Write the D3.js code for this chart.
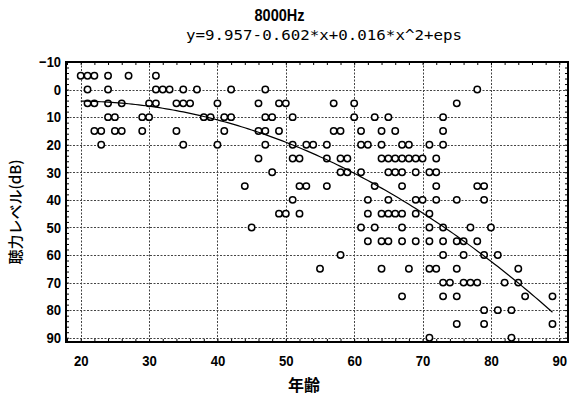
<!DOCTYPE html>
<html>
<head>
<meta charset="utf-8">
<script src="https://cdn.jsdelivr.net/npm/d3@7/dist/d3.min.js"></script>
<style>
  html, body { margin: 0; padding: 0; background: #fff; }
  svg { display: block; }
</style>
</head>
<body>
<svg id="chart" width="573" height="396"></svg>
<script>
// Hearing level at 8000 Hz by age, with a quadratic fit
const chartTitle = "8000Hz";
const xLabel = "年齢";
const yLabel = "聴力レベル(dB)";

// fit coefficients: level = c0 + c1*age + c2*age^2
const fitCoef = [9.957, -0.602, 0.0157];

const xTicks = [20, 30, 40, 50, 60, 70, 80, 90];
const yTicks = [-10, 0, 10, 20, 30, 40, 50, 60, 70, 80, 90];

// hearing level (dB) of each row of points, and the ages measured at that level
const levelRows = [-5, 0, 5, 10, 15, 20, 25, 30, 35, 40, 45, 50, 55, 60, 65, 70, 75, 80, 85, 90];
const agesByRow = [
  [20, 21, 22, 24, 27, 31],
  [21, 24, 31, 32, 33, 35, 37, 42, 47, 78],
  [21, 22, 24, 26, 30, 31, 34, 35, 36, 40, 46, 49, 50, 57, 60, 75],
  [24, 25, 29, 30, 38, 39, 41, 42, 47, 48, 51, 60, 63, 65, 73],
  [22, 23, 25, 26, 29, 34, 41, 46, 47, 49, 57, 58, 61, 64, 66, 73],
  [23, 35, 40, 47, 51, 53, 54, 56, 61, 62, 64, 67, 68, 71, 73],
  [46, 51, 52, 56, 58, 59, 64, 65, 66, 67, 68, 69, 70, 72],
  [48, 58, 59, 61, 65, 66, 67, 69, 71, 72],
  [44, 52, 53, 56, 63, 67, 72, 78, 79],
  [51, 62, 65, 69, 70, 72, 75, 79],
  [49, 50, 52, 62, 64, 65, 66, 67, 69, 71],
  [45, 61, 63, 67, 71, 73, 77, 80],
  [62, 64, 65, 67, 69, 71, 73, 75, 76, 78],
  [58, 73, 76, 79, 81],
  [55, 64, 68, 71, 72, 75, 84],
  [73, 74, 76, 77, 78, 82, 84],
  [67, 73, 75, 85, 89],
  [79, 81, 83],
  [75, 79, 89],
  [71, 83]
];

const points = [];
levelRows.forEach((lv, i) => agesByRow[i].forEach(a => points.push({ age: a, level: lv })));

const svg = d3.select("#chart");
const plot = { left: 66, right: 568, top: 62, bottom: 342 };

const x = d3.scaleLinear().domain([17.85, 91.27]).range([plot.left, plot.right]);
const y = d3.scaleLinear().domain([-10, 91.55]).range([plot.top, plot.bottom]);

const tickFont = "'Liberation Sans Narrow', 'Liberation Sans', Arial, sans-serif";

// grid
const grid = svg.append("g").attr("class", "grid")
  .attr("stroke", "#444").attr("stroke-width", 1).attr("stroke-dasharray", "2,1.5");
grid.selectAll("line.gx").data(xTicks).join("line")
  .attr("class", "gx")
  .attr("x1", d => Math.round(x(d)) + 0.5).attr("x2", d => Math.round(x(d)) + 0.5)
  .attr("y1", plot.top).attr("y2", plot.bottom);
grid.selectAll("line.gy").data(yTicks.filter(d => d > -10)).join("line")
  .attr("class", "gy")
  .attr("x1", plot.left).attr("x2", plot.right)
  .attr("y1", d => Math.round(y(d)) + 0.5).attr("y2", d => Math.round(y(d)) + 0.5);

// minor ticks every 2 units, pointing inwards on all four sides
const xMinor = d3.range(18, 92, 2);
const yMinor = d3.range(-10, 92, 2);
const tickLen = 3;
const axisAll = svg.append("g").attr("stroke", "#000").attr("stroke-width", 1);
axisAll.append("g").call(d3.axisBottom(x).tickValues(xMinor).tickSize(-tickLen).tickFormat(""))
  .attr("transform", `translate(0,${plot.bottom})`);
axisAll.append("g").call(d3.axisTop(x).tickValues(xMinor).tickSize(-tickLen).tickFormat(""))
  .attr("transform", `translate(0,${plot.top})`);
axisAll.append("g").call(d3.axisLeft(y).tickValues(yMinor).tickSize(-tickLen).tickFormat(""))
  .attr("transform", `translate(${plot.left},0)`);
axisAll.append("g").call(d3.axisRight(y).tickValues(yMinor).tickSize(-tickLen).tickFormat(""))
  .attr("transform", `translate(${plot.right},0)`);
axisAll.selectAll(".domain").remove();

// tick labels: bold, narrow digits
function styleTickText(sel) {
  sel.attr("font-family", tickFont).attr("font-weight", "bold")
    .attr("font-size", 15).attr("fill", "#000")
    .attr("lengthAdjust", "spacingAndGlyphs")
    .attr("textLength", function () { return this.textContent.length * 7.3; });
}
const xAxis = svg.append("g").attr("transform", `translate(0,${plot.bottom})`)
  .call(d3.axisBottom(x).tickValues(xTicks).tickSize(0).tickPadding(13));
xAxis.select(".domain").remove();
xAxis.selectAll("text").call(styleTickText);

const yAxis = svg.append("g").attr("transform", `translate(${plot.left},0)`)
  .call(d3.axisLeft(y).tickValues(yTicks).tickSize(0).tickPadding(5));
yAxis.select(".domain").remove();
yAxis.selectAll("text").call(styleTickText);

// frame
svg.append("rect")
  .attr("x", plot.left).attr("y", plot.top)
  .attr("width", plot.right - plot.left).attr("height", plot.bottom - plot.top)
  .attr("fill", "none").attr("stroke", "#000").attr("stroke-width", 2);

// data points
svg.append("g").selectAll("circle").data(points).join("circle")
  .attr("cx", d => x(d.age)).attr("cy", d => y(d.level))
  .attr("r", 3.2).attr("fill", "#fff").attr("stroke", "#000").attr("stroke-width", 1.5);

// fitted curve over the observed age range
const ageExtent = d3.extent(points, d => d.age);
const fit = a => fitCoef[0] + fitCoef[1] * a + fitCoef[2] * a * a;
const curveAges = d3.range(ageExtent[0], ageExtent[1] + 0.001, 0.5);
svg.append("path")
  .datum(curveAges)
  .attr("d", d3.line().x(a => x(a)).y(a => y(fit(a))))
  .attr("fill", "none").attr("stroke", "#000").attr("stroke-width", 1.2);

// titles
svg.append("text").attr("x", 279.5).attr("y", 21).attr("text-anchor", "middle")
  .attr("font-family", tickFont).attr("font-weight", "bold").attr("font-size", 16)
  .attr("textLength", 50).attr("lengthAdjust", "spacingAndGlyphs")
  .text(chartTitle);

const eq = `y=${fitCoef[0].toFixed(3)}${fitCoef[1] < 0 ? "-" : "+"}${Math.abs(fitCoef[1]).toFixed(3)}*x+${fitCoef[2].toFixed(3)}*x^2+eps`;
svg.append("text").attr("x", 186).attr("y", 40)
  .attr("font-family", "'DejaVu Sans Mono', monospace").attr("font-size", 14)
  .attr("textLength", 276).attr("lengthAdjust", "spacingAndGlyphs")
  .text(eq);

svg.append("text").attr("x", 304).attr("y", 391).attr("text-anchor", "middle")
  .attr("font-family", "'Noto Sans CJK JP', sans-serif").attr("font-weight", "bold").attr("font-size", 16)
  .text(xLabel);

svg.append("text")
  .attr("transform", "translate(21,212) rotate(-90)")
  .attr("text-anchor", "middle")
  .attr("font-family", "'Noto Sans CJK JP', sans-serif").attr("font-weight", "500").attr("font-size", 15)
  .text(yLabel);
</script>
</body>
</html>
